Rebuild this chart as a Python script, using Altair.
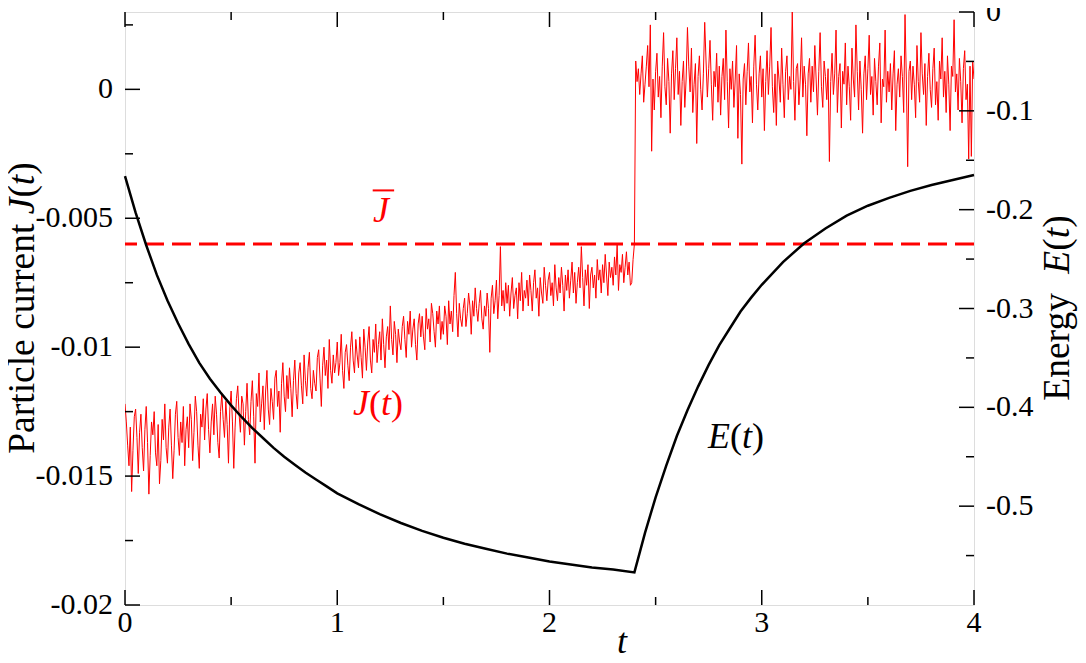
import altair as alt
import pandas as pd

# ---------------- data ----------------
# Particle current J(t), in units of 1e-3, sampled every 0.00625 in t (16 samples per 0.1)
J_pre_milli = [
    -12.2, -12.9, -13.8, -14.6, -13.1, -15.6, -14.0, -12.7, -12.4, -13.5, -14.9, -13.3, -12.6, -13.9, -14.8, -13.2,
    -12.3, -13.7, -15.7, -14.2, -12.9, -13.4, -12.5, -14.1, -14.6, -13.0, -15.3, -14.4, -12.8, -13.6, -12.2, -13.9,
    -14.5, -13.1, -12.4, -13.8, -15.1, -14.0, -12.6, -12.1, -13.5, -14.2, -12.9, -13.7, -12.3, -14.6, -13.2, -12.7,
    -13.9, -12.2, -12.8, -14.4, -13.3, -11.9, -12.5, -13.8, -14.7, -12.6, -13.1, -12.0, -13.6, -12.4, -11.8, -13.2,
    -14.1, -12.9, -12.2, -13.4, -11.9, -12.6, -13.7, -14.3, -12.5, -11.8, -12.8, -13.5, -12.1, -13.0, -14.5, -12.4,
    -11.7, -12.9, -14.7, -13.1, -12.0, -11.5, -12.6, -13.3, -11.9, -12.2, -13.8, -12.5, -11.4, -12.8, -13.4, -12.1,
    -11.3, -12.7, -14.5, -11.8, -12.3, -11.0, -12.9, -12.2, -11.5, -13.2, -11.7, -10.9, -12.4, -13.0, -11.6, -12.1,
    -12.8, -11.2, -10.9, -12.3, -11.7, -13.3, -11.4, -10.6, -11.9, -12.5, -11.1, -12.0, -10.8, -11.6, -12.7, -11.3,
    -10.5, -11.8, -12.4, -11.0, -10.6, -11.5, -12.2, -10.3, -11.3, -11.9, -10.8, -10.2, -11.6, -12.0, -10.9, -11.4,
    -11.7, -10.4, -10.1, -11.2, -12.3, -10.7, -10.0, -11.1, -10.5, -11.6, -9.7, -10.9, -11.4, -10.3, -11.0, -10.6,
    -9.8, -11.1, -10.6, -9.5, -10.9, -11.6, -10.2, -9.9, -10.7, -11.3, -10.0, -9.4, -10.5, -11.0, -9.7, -10.3,
    -10.8, -9.6, -10.4, -11.2, -9.3, -10.0, -10.9, -9.8, -9.2, -10.5, -11.0, -9.7, -10.2, -9.1, -10.6, -9.9,
    -9.4, -10.5, -8.9, -9.9, -10.8, -9.6, -9.2, -10.1, -8.4, -9.7, -10.3, -9.0, -9.5, -10.6, -9.3, -9.8,
    -10.1, -9.2, -8.8, -9.7, -10.4, -9.0, -9.5, -8.6, -10.0, -9.3, -8.9, -9.9, -10.5, -9.1, -8.7, -9.6,
    -8.8, -9.6, -10.1, -8.5, -9.3, -8.9, -9.8, -8.3, -8.7, -9.4, -10.0, -8.6, -9.1, -8.4, -9.7, -9.0,
    -9.5, -8.4, -8.8, -9.9, -8.2, -9.1, -8.6, -9.4, -8.0, -7.1, -8.7, -9.6, -8.3, -8.9, -9.2, -8.5,
    -8.1, -9.2, -8.7, -7.9, -8.4, -9.5, -8.2, -8.8, -7.7, -8.5, -9.0, -8.3, -7.8, -8.9, -9.3, -8.4,
    -8.8, -7.9, -8.5, -10.2, -8.1, -7.6, -8.7, -8.2, -7.4, -8.9, -8.0, -6.1, -8.4, -7.8, -8.6, -7.5,
    -8.3, -7.6, -8.8, -7.9, -7.3, -8.5, -8.0, -7.7, -8.9, -7.5, -8.2, -7.1, -8.6, -7.8, -8.1, -7.4,
    -8.4, -7.2, -7.8, -8.6, -7.5, -7.0, -8.1, -7.7, -8.8, -7.3, -7.9, -8.3, -6.9, -7.6, -8.2, -7.4,
    -7.1, -8.0, -7.5, -8.4, -6.8, -7.7, -8.2, -7.3, -7.9, -6.9, -7.6, -8.6, -7.2, -7.8, -7.0, -8.1,
    -7.4, -6.7, -7.9, -7.1, -8.3, -7.5, -6.9, -7.7, -6.1, -7.3, -8.4, -7.0, -7.6, -6.8, -8.5, -7.2,
    -6.9, -7.7, -7.2, -8.1, -6.6, -7.4, -7.0, -7.9, -6.8, -7.5, -6.4, -7.2, -8.0, -6.7, -7.3, -6.9,
    -7.6, -6.5, -7.2, -6.0, -7.8, -6.8, -7.1, -6.4, -7.5, -6.9, -6.3, -7.2, -6.7, -7.6, -7.5, -6.6,
    -6.0,
]
J_post_milli = [
    1.1, 0.3, 0.8, -0.2, 0.6, 1.3, -0.5, 0.2, 0.9, 1.7, 0.1, 2.5, -2.4, 0.4, -0.8, 0.7,
    1.4, -0.3, 0.5, -1.1, 0.9, 2.2, 0.1, -0.6, 1.2, 0.3, -1.7, 0.6, 1.5, -0.4, 0.8, 2.0,
    -0.2, 0.7, -1.4, 0.3, 1.1, -0.7, 0.4, 2.4, 0.9, -0.1, 1.6, -0.9, 0.2, 1.0, -2.1, 0.5,
    1.3, 0.0, -0.8, 0.6, 2.6, 1.1, -0.3, 0.8, 1.9, 0.2, -1.2, 0.7, 0.1, 1.4, -0.5, 0.9,
    -1.0, 0.5, 1.2, -0.4, 2.3, 0.3, -1.5, 0.8, 0.0, 1.1, -0.7, 0.4, 1.7, -1.9, 0.6, -0.2,
    -2.9, 0.4, 1.0, -0.6, 0.7, 1.8, -0.1, 0.5, -1.3, 0.9, 2.1, 0.2, -0.8, 0.6, 1.3, -0.3,
    0.8, -1.6, 0.3, 1.5, -0.2, 0.9, 2.4, 0.1, -0.9, 0.6, -1.4, 1.1, 0.4, -0.5, 1.6, 0.2,
    -1.1, 0.7, 1.3, -0.4, 0.5, 0.0, 3.0, 0.3, -1.2, 0.8, 1.0, -0.6, 0.4, 2.0, -0.3, 0.9,
    0.2, -1.8, 0.6, 1.2, -0.5, 0.9, -0.1, 1.7, 0.4, -1.0, 0.7, 2.2, 0.1, -0.7, 1.1, 0.5,
    -0.4, 0.8, -2.8, 0.3, 1.4, -0.2, 0.6, 2.3, -0.9, 0.5, 1.0, -1.5, 0.7, 0.2, 1.8, -0.6,
    0.9, 0.1, -1.2, 1.6, 0.4, -0.3, 2.5, 0.7, -0.8, 1.1, 0.0, -1.7, 0.6, 1.3, -0.4, 0.8,
    2.1, -0.2, 0.5, -1.0, 1.2, 0.3, -0.6, 0.9, 1.8, -1.3, 0.4, 0.1, 2.3, -0.5, 0.7, -0.1,
    1.0, -0.8, 0.6, 1.5, -1.6, 0.2, 0.8, -0.3, 1.3, 0.5, -0.9, 2.9, 0.4, -3.0, 0.7, 1.1,
    -0.4, 0.9, 0.2, -1.1, 1.7, 0.3, -0.5, 2.2, 0.6, -0.2, 1.0, -1.4, 0.5, 1.4, 0.0, -0.7,
    0.8, 1.6, -0.6, 0.3, -1.2, 1.1, 0.4, 2.0, -0.3, 0.7, -0.9, 1.3, 0.2, -1.6, 0.9, 0.5,
    2.7, -0.1, 0.6, -0.8, 1.2, 0.3, -1.3, 0.8, 1.5, -0.4, 0.2, -2.7, 0.9, -2.6, 1.1, 0.4,
]
J_milli = J_pre_milli + J_post_milli
t_step = 0.00625
t_J = [round(i * t_step, 5) for i in range(len(J_milli))]
J_vals = [round(v * 1e-3, 6) for v in J_milli]

# Energy E(t)
t_E = [0.00, 0.05, 0.10, 0.15, 0.20, 0.25, 0.30, 0.35, 0.40, 0.45,
       0.50, 0.55, 0.60, 0.65, 0.70, 0.75, 0.80, 0.85, 0.90, 0.95,
       1.00, 1.10, 1.20, 1.30, 1.40, 1.50, 1.60, 1.70, 1.80, 1.90,
       2.00, 2.10, 2.20, 2.30, 2.40,
       2.45, 2.50, 2.55, 2.60, 2.65, 2.70, 2.75, 2.80, 2.85, 2.90,
       2.95, 3.00, 3.10, 3.20, 3.30, 3.40, 3.50, 3.60, 3.70, 3.80,
       3.90, 4.00]
E_vals = [-0.166, -0.203, -0.236, -0.266, -0.292, -0.315, -0.336, -0.355, -0.371, -0.385,
          -0.398, -0.410, -0.421, -0.431, -0.441, -0.450, -0.458, -0.466, -0.473, -0.480,
          -0.487, -0.498, -0.508, -0.517, -0.525, -0.532, -0.538, -0.543, -0.548, -0.552,
          -0.556, -0.559, -0.562, -0.564, -0.567,
          -0.527, -0.491, -0.459, -0.429, -0.403, -0.379, -0.357, -0.337, -0.320, -0.303,
          -0.289, -0.276, -0.253, -0.234, -0.219, -0.206, -0.196, -0.188, -0.181, -0.175,
          -0.170, -0.165]

J_mean = -0.006

left_major = [0, -0.005, -0.01, -0.015, -0.02]
left_labels = ["0", "-0.005", "-0.01", "-0.015", "-0.02"]
left_minor = [0.0025, -0.0025, -0.0075, -0.0125, -0.0175]
right_major = [0, -0.1, -0.2, -0.3, -0.4, -0.5]
right_labels = ["0", "-0.1", "-0.2", "-0.3", "-0.4", "-0.5"]
right_minor = [-0.05, -0.15, -0.25, -0.35, -0.45, -0.55]
x_major = [0, 1, 2, 3, 4]
x_labels = ["0", "1", "2", "3", "4"]
x_minor = [0.5, 1.5, 2.5, 3.5]

# annotation anchors (data coordinates, left scale)
ann_Jt = (1.074, -0.01262)
ann_Et = (2.747, -0.01393)
ann_Jbar = (1.206, -0.00516)
ann_Jbar_line = (1.167, 1.268, -0.00392)

# ---------------- styling ----------------
W, H = 849, 593
FONT = "Liberation Serif"
RED = "#ff0000"
TICK_FS = 30
ANN_FS = 36
AXT_FS = 37.5

x_scale = alt.Scale(domain=[0, 4], nice=False, zero=False)
yL = alt.Scale(domain=[-0.02, 0.003], nice=False, zero=False)
yR = alt.Scale(domain=[-0.6, 0], nice=False, zero=False)

one = pd.DataFrame({"a": [0]})

dfJ = pd.DataFrame({"t": t_J, "J": J_vals})
j_line = alt.Chart(dfJ).mark_line(color=RED, strokeWidth=1, clip=True).encode(
    x=alt.X("t:Q", scale=x_scale, axis=None),
    y=alt.Y("J:Q", scale=yL, axis=None),
)

mean_rule = alt.Chart(pd.DataFrame({"m": [J_mean]})).mark_rule(
    color=RED, strokeWidth=3, strokeDash=[19, 8]).encode(
    y=alt.Y("m:Q", scale=yL, axis=None))


def yticks(vals, scale, x0, x1):
    return alt.Chart(pd.DataFrame({"v": vals})).mark_rule(color="black", strokeWidth=1.5).encode(
        y=alt.Y("v:Q", scale=scale, axis=None), x=alt.value(x0), x2=alt.value(x1))


def xticks(vals, y0, y1):
    return alt.Chart(pd.DataFrame({"v": vals})).mark_rule(color="black", strokeWidth=1.5).encode(
        x=alt.X("v:Q", scale=x_scale, axis=None), y=alt.value(y0), y2=alt.value(y1))


MAJ, MIN = 15, 8
tick_layers_left = [
    yticks(left_major, yL, 0, MAJ), yticks(left_minor, yL, 0, MIN),
    xticks(x_major, H, H - MAJ), xticks(x_minor, H, H - MIN),
    xticks(x_major, 0, MAJ), xticks(x_minor, 0, MIN),
]
tick_layers_right = [
    yticks(right_major, yR, W, W - MAJ), yticks(right_minor, yR, W, W - MIN),
]

# tick labels, placed through the scales
lbl_left = alt.Chart(pd.DataFrame({"v": left_major, "s": left_labels})).mark_text(
    align="right", baseline="middle", font=FONT, fontSize=TICK_FS, color="black").encode(
    y=alt.Y("v:Q", scale=yL, axis=None), x=alt.value(-12), text="s:N")
lbl_right = alt.Chart(pd.DataFrame({"v": right_major, "s": right_labels})).mark_text(
    align="left", baseline="middle", font=FONT, fontSize=TICK_FS, color="black").encode(
    y=alt.Y("v:Q", scale=yR, axis=None), x=alt.value(W + 12), text="s:N")
lbl_x = alt.Chart(pd.DataFrame({"v": x_major, "s": x_labels})).mark_text(
    align="center", baseline="alphabetic", font=FONT, fontSize=TICK_FS, color="black").encode(
    x=alt.X("v:Q", scale=x_scale, axis=None), y=alt.value(H + 27), text="s:N")


# widths (em) of Times-metric glyph runs, for placing mixed upright / italic pieces
def pieces_horizontal(anchor, pieces, color, size):
    t0, v0 = anchor
    df = pd.DataFrame({"t": [t0], "v": [v0]})
    layers = []
    dx = 0.0
    for txt, italic, w in pieces:
        layers.append(alt.Chart(df).mark_text(
            text=txt, align="left", baseline="alphabetic", dx=dx, font=FONT,
            fontSize=size, fontStyle="italic" if italic else "normal", color=color).encode(
            x=alt.X("t:Q", scale=x_scale, axis=None), y=alt.Y("v:Q", scale=yL, axis=None)))
        dx += w * size
    return layers


def pieces_rotated(x_px, y_center, pieces, size, color="black"):
    total = sum(w for _, _, w in pieces) * size
    y = y_center + total / 2
    layers = []
    for txt, italic, w in pieces:
        layers.append(alt.Chart(one).mark_text(
            text=txt, angle=270, align="left", baseline="alphabetic", font=FONT,
            fontSize=size, fontStyle="italic" if italic else "normal", color=color).encode(
            x=alt.value(x_px), y=alt.value(y)))
        y -= w * size
    return layers


ann_layers = []
ann_layers += pieces_horizontal(ann_Jt, [("J", True, 0.444), ("(", False, 0.333),
                                         ("t", True, 0.278), (")", False, 0.333)], RED, ANN_FS)
ann_layers += pieces_horizontal(ann_Et, [("E", True, 0.611), ("(", False, 0.333),
                                         ("t", True, 0.278), (")", False, 0.333)], "black", ANN_FS)
ann_layers.append(alt.Chart(pd.DataFrame({"t": [ann_Jbar[0]], "v": [ann_Jbar[1]]})).mark_text(
    text="J", align="center", baseline="alphabetic", font=FONT, fontSize=ANN_FS,
    fontStyle="italic", color=RED).encode(
    x=alt.X("t:Q", scale=x_scale, axis=None), y=alt.Y("v:Q", scale=yL, axis=None)))
ann_layers.append(alt.Chart(pd.DataFrame({"t1": [ann_Jbar_line[0]], "t2": [ann_Jbar_line[1]],
                                          "v": [ann_Jbar_line[2]]})).mark_rule(
    color=RED, strokeWidth=2).encode(
    x=alt.X("t1:Q", scale=x_scale, axis=None), x2="t2:Q", y=alt.Y("v:Q", scale=yL, axis=None)))

title_layers = []
title_layers += pieces_rotated(-91, 296, [("Particle current", False, 6.387), ("J", True, 0.444),
                                          ("(", False, 0.333), ("t", True, 0.278), (")", False, 0.333)],
                               AXT_FS)
title_layers += pieces_rotated(W + 95, 296, [("Energy", False, 3.388), ("E", True, 0.611),
                                             ("(", False, 0.333), ("t", True, 0.278), (")", False, 0.333)],
                               AXT_FS)
title_layers.append(alt.Chart(one).mark_text(
    text="t", align="center", baseline="alphabetic", font=FONT, fontSize=ANN_FS,
    fontStyle="italic", color="black").encode(x=alt.value(497), y=alt.value(H + 48)))

e_line = alt.Chart(pd.DataFrame({"t": t_E, "E": E_vals})).mark_line(
    color="black", strokeWidth=2.5).encode(
    x=alt.X("t:Q", scale=x_scale, axis=None),
    y=alt.Y("E:Q", scale=yR, axis=None),
)

left = alt.layer(j_line, mean_rule, *tick_layers_left, lbl_left, lbl_x,
                 *ann_layers, *title_layers)
right = alt.layer(e_line, *tick_layers_right, lbl_right)

chart = alt.layer(left, right).resolve_scale(y="independent").properties(
    width=W, height=H,
    autosize=alt.AutoSizeParams(type="none"),
    padding={"left": 117, "top": 4, "right": 104, "bottom": 50},
).configure_view(stroke="black", strokeWidth=1.5).configure(background="white")

chart.save("out.html", embed_options={"renderer": "svg", "actions": False})
